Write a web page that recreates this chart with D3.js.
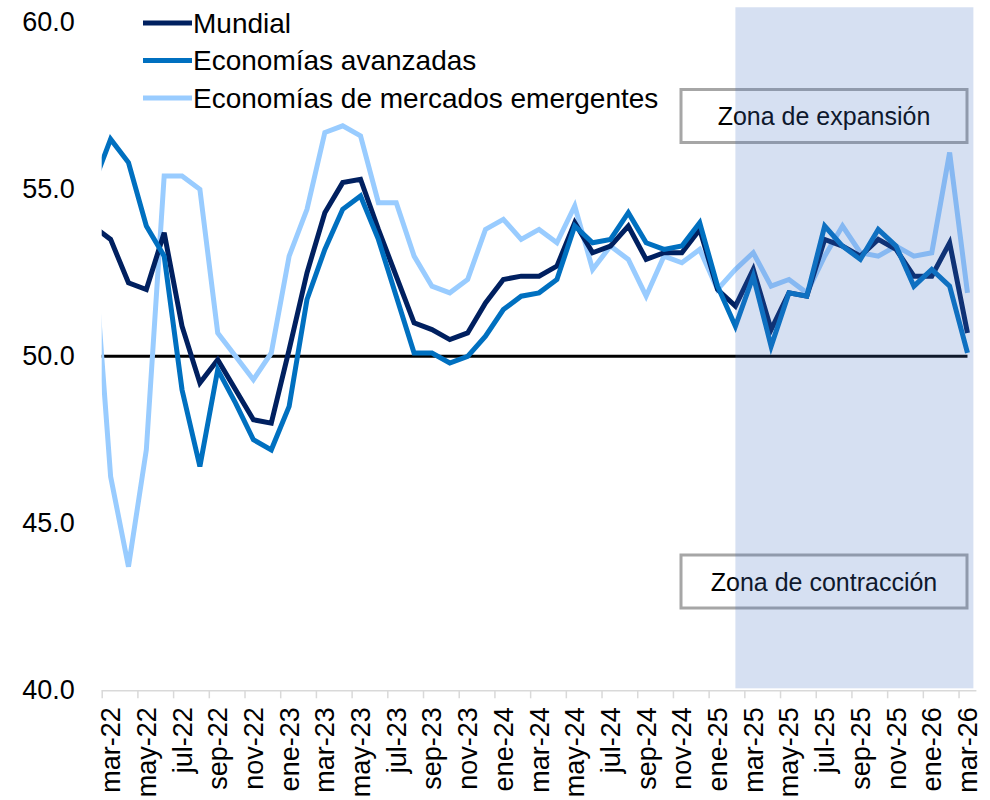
<!DOCTYPE html>
<html>
<head>
<meta charset="utf-8">
<script src="https://cdn.jsdelivr.net/npm/d3@7"></script>
<style>
  body { margin: 0; background: #fff; }
  svg { display: block; font-family: "Liberation Sans", Arial, sans-serif; }
</style>
</head>
<body>
<svg id="chart" width="990" height="800"></svg>
<script>
// months, first one (feb-22) sits just outside the plot and gets clipped
const months = [
    "feb-22",
    "mar-22", "abr-22", "may-22", "jun-22", "jul-22", "ago-22", "sep-22", "oct-22", "nov-22", "dic-22",
    "ene-23", "feb-23", "mar-23", "abr-23", "may-23", "jun-23", "jul-23", "ago-23", "sep-23", "oct-23", "nov-23", "dic-23",
    "ene-24", "feb-24", "mar-24", "abr-24", "may-24", "jun-24", "jul-24", "ago-24", "sep-24", "oct-24", "nov-24", "dic-24",
    "ene-25", "feb-25", "mar-25", "abr-25", "may-25", "jun-25", "jul-25", "ago-25", "sep-25", "oct-25", "nov-25", "dic-25",
    "ene-26", "feb-26", "mar-26"
];

const mundial = [
    53.9,
    53.5, 52.2, 52.0, 53.7, 50.9, 49.2, 49.9, 49.0, 48.1, 48.0,
    50.2, 52.5, 54.3, 55.2, 55.3, 53.8, 52.4, 51.0, 50.8, 50.5, 50.7, 51.6,
    52.3, 52.4, 52.4, 52.7, 54.0, 53.1, 53.3, 53.9, 52.9, 53.1, 53.1, 53.8,
    52.0, 51.5, 52.6, 50.8, 51.9, 51.8, 53.5, 53.3, 53.0, 53.5, 53.2, 52.4,
    52.4, 53.4, 50.7
];

const avanzadas = [
    55.1,
    56.5, 55.8, 53.9, 53.0, 49.0, 46.7, 49.6, 48.6, 47.5, 47.2,
    48.5, 51.7, 53.2, 54.4, 54.8, 53.5, 51.8, 50.1, 50.1, 49.8, 50.0, 50.6,
    51.4, 51.8, 51.9, 52.3, 53.9, 53.4, 53.5, 54.3, 53.4, 53.2, 53.3, 54.0,
    52.1, 50.9, 52.4, 50.3, 51.9, 51.8, 53.9, 53.3, 52.9, 53.8, 53.3, 52.1,
    52.6, 52.1, 50.1
];

const emergentes = [
    53.6,
    46.4, 43.7, 47.2, 55.4, 55.4, 55.0, 50.7, 50.0, 49.3, 50.1,
    53.0, 54.4, 56.7, 56.9, 56.6, 54.6, 54.6, 53.0, 52.1, 51.9, 52.3, 53.8,
    54.1, 53.5, 53.8, 53.4, 54.5, 52.6, 53.3, 52.9, 51.8, 53.0, 52.8, 53.2,
    52.0, 52.6, 53.1, 52.1, 52.3, 51.9, 53.0, 53.9, 53.1, 53.0, 53.3, 53.0,
    53.1, 56.1, 51.9
];

const threshold = 50;
const yTicks = [40, 45, 50, 55, 60];
const shadeStart = "feb-25";
const shadeTop = 60.45;

const series = [
    { name: "Economías de mercados emergentes", values: emergentes, color: "#99CCFF" },
    { name: "Mundial", values: mundial, color: "#002060" },
    { name: "Economías avanzadas", values: avanzadas, color: "#0070C0" }
];
const legendOrder = ["Mundial", "Economías avanzadas", "Economías de mercados emergentes"];

const svg = d3.select("#chart");
const plotLeft = 101.7, plotRight = 976.4, plotTop = 22.3, plotBottom = 690.3;

// index 1 = mar-22, centre of its band
const x = d3.scaleLinear().domain([0.5, months.length - 0.5]).range([plotLeft, plotRight]);
const y = d3.scaleLinear().domain([40, 60]).range([plotBottom, plotTop]);

svg.append("defs").append("clipPath").attr("id", "plot-clip")
    .append("rect")
    .attr("x", plotLeft).attr("y", 0)
    .attr("width", plotRight - plotLeft).attr("height", plotBottom);

// y axis labels, no axis line
const yAxis = svg.append("g")
    .attr("transform", `translate(${plotLeft - 24},0)`)
    .call(d3.axisLeft(y).tickValues(yTicks).tickSize(0).tickFormat(d3.format(".1f")));
yAxis.select(".domain").remove();
yAxis.selectAll("text").attr("font-size", 27).attr("fill", "#000")
    .attr("font-family", "Liberation Sans, Arial, sans-serif");

// x axis: ticks at band edges every 2 months, labels on the band centres
const labelIdx = d3.range(1, months.length, 2);
const xAxis = svg.append("g")
    .attr("transform", `translate(0,${plotBottom})`)
    .call(d3.axisBottom(x)
        .tickValues(labelIdx.map(i => i - 0.5))
        .tickSize(8)
        .tickFormat(""));
xAxis.select(".domain").attr("stroke", "#d9d9d9").attr("stroke-width", 1.5)
    .attr("d", `M${plotLeft},0.5H${plotRight}`);
xAxis.selectAll(".tick line").attr("stroke", "#d9d9d9").attr("stroke-width", 1.5);

svg.append("g")
    .selectAll("text")
    .data(labelIdx)
    .join("text")
    .attr("transform", i => `translate(${x(i) + 9.5},${plotBottom + 17}) rotate(-90)`)
    .attr("text-anchor", "end")
    .attr("font-size", 27)
    .attr("fill", "#000")
    .text(i => months[i]);

const plot = svg.append("g").attr("clip-path", "url(#plot-clip)");

// 50 line
plot.append("path")
    .datum(months.map((m, i) => i))
    .attr("fill", "none")
    .attr("stroke", "#000")
    .attr("stroke-width", 3)
    .attr("d", d3.line().x(i => x(i)).y(() => y(threshold)));

const line = d3.line()
    .x((d, i) => x(i))
    .y(d => y(d));

plot.selectAll(".series")
    .data(series)
    .join("path")
    .attr("class", "series")
    .attr("fill", "none")
    .attr("stroke", d => d.color)
    .attr("stroke-width", 5)
    .attr("stroke-linejoin", "miter")
    .attr("d", d => line(d.values));

// legend
const legend = svg.append("g");
legendOrder.forEach(function (name, k) {
    const s = series.find(d => d.name === name);
    const ly = 23 + k * 37.5;
    legend.append("line")
        .attr("x1", 143).attr("x2", 192)
        .attr("y1", ly).attr("y2", ly)
        .attr("stroke", s.color).attr("stroke-width", 5);
    legend.append("text")
        .attr("x", 193).attr("y", ly)
        .attr("dy", "0.35em")
        .attr("font-size", 28)
        .attr("fill", "#000")
        .text(name);
});

// zone boxes
const boxes = [
    { label: "Zona de expansión", y0: 89.5, y1: 142.5 },
    { label: "Zona de contracción", y0: 555, y1: 608 }
];
const boxG = svg.append("g");
boxes.forEach(function (b) {
    boxG.append("rect")
        .attr("x", 681).attr("y", b.y0)
        .attr("width", 286).attr("height", b.y1 - b.y0)
        .attr("fill", "#fff")
        .attr("stroke", "#a6a6a6")
        .attr("stroke-width", 3);
    boxG.append("text")
        .attr("x", 824).attr("y", (b.y0 + b.y1) / 2)
        .attr("dy", "0.36em")
        .attr("text-anchor", "middle")
        .attr("font-size", 25)
        .attr("fill", "#000")
        .text(b.label);
});

// shaded projection zone on top
const si = months.indexOf(shadeStart);
svg.append("rect")
    .attr("x", x(si))
    .attr("y", y(shadeTop))
    .attr("width", plotRight - 3 - x(si))
    .attr("height", y(40) - 2 - y(shadeTop))
    .attr("fill", "#4472C4")
    .attr("fill-opacity", 0.22);
</script>
</body>
</html>
